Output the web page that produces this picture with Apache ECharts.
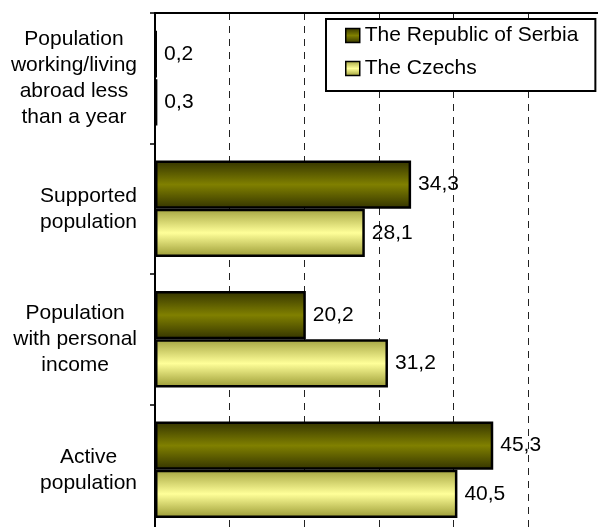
<!DOCTYPE html>
<html>
<head>
<meta charset="utf-8">
<script src="https://cdn.jsdelivr.net/npm/echarts@6/dist/echarts.min.js"></script>
<style>
html,body{margin:0;padding:0;background:#fff;}
#chart{width:598px;height:527px;}
</style>
</head>
<body>
<div id="chart"></div>
<script>
const categories = [
  "Population\nworking/living\nabroad less\nthan a year",
  "Supported\npopulation",
  "Population\nwith personal\nincome",
  "Active\npopulation"
];
const seriesNames = ["The Republic of Serbia", "The Czechs"];
const serbia = [0.2, 34.3, 20.2, 45.3];
const czechs = [0.3, 28.1, 31.2, 40.5];
const valueMin = 0, valueMax = 60, valueStep = 10;

const FONT = "'Liberation Sans', Arial, sans-serif";

function grad(edge1, mid, edge2) {
  return new echarts.graphic.LinearGradient(0, 0, 0, 1, [
    {offset: 0, color: edge1},
    {offset: 0.5, color: mid},
    {offset: 1, color: edge2}
  ]);
}

const chart = echarts.init(document.getElementById('chart'), null, {renderer: 'canvas'});
const labelFmt = p => String(p.value).replace('.', ',');

chart.setOption({
  animation: false,
  backgroundColor: '#fff',
  textStyle: {fontFamily: FONT},
  grid: {left: 155, top: 13, right: -5, bottom: -8, containLabel: false, outerBoundsMode: 'none'},
  legend: {
    orient: 'vertical',
    left: 326, top: 19,
    padding: [6, 17, 12, 19],
    itemGap: 12,
    itemWidth: 14, itemHeight: 14,
    icon: 'rect',
    borderColor: '#000', borderWidth: 2,
    backgroundColor: '#fff',
    textStyle: {fontSize: 21, color: '#000', fontFamily: FONT, lineHeight: 20},
    itemStyle: {borderColor: '#000', borderWidth: 1.5},
    data: seriesNames
  },
  xAxis: {
    type: 'value',
    position: 'top',
    min: valueMin, max: valueMax, interval: valueStep,
    axisLine: {show: true, lineStyle: {color: '#000', width: 2}},
    axisTick: {show: false},
    axisLabel: {show: false},
    splitLine: {show: true, lineStyle: {color: '#222', width: 1, type: [7, 6]}}
  },
  yAxis: {
    type: 'category',
    inverse: true,
    data: categories,
    axisLine: {show: true, lineStyle: {color: '#000', width: 2}},
    axisTick: {show: true, length: 5, lineStyle: {color: '#000', width: 1.5}},
    axisLabel: {
      margin: 18,
      color: '#000',
      fontSize: 21,
      fontFamily: FONT,
      formatter: v => v.split('\n').map(l => '{c|' + l + '}').join('\n'),
      rich: {c: {align: 'center', fontSize: 21, lineHeight: 26, color: '#000', fontFamily: FONT}}
    }
  },
  series: [
    {
      name: seriesNames[0], type: 'bar', data: serbia,
      barGap: '0%', barCategoryGap: '26%',
      itemStyle: {color: grad('#333300', '#808000', '#333300'), borderColor: '#000', borderWidth: 2.5},
      label: {show: true, position: 'right', distance: 7, formatter: labelFmt, fontSize: 21, color: '#000', fontFamily: FONT}
    },
    {
      name: seriesNames[1], type: 'bar', data: czechs,
      barGap: '0%', barCategoryGap: '26%',
      itemStyle: {color: grad('#a3a340', '#ffff99', '#999933'), borderColor: '#000', borderWidth: 2.5},
      label: {show: true, position: 'right', distance: 7, formatter: labelFmt, fontSize: 21, color: '#000', fontFamily: FONT}
    }
  ]
});
</script>
</body>
</html>
